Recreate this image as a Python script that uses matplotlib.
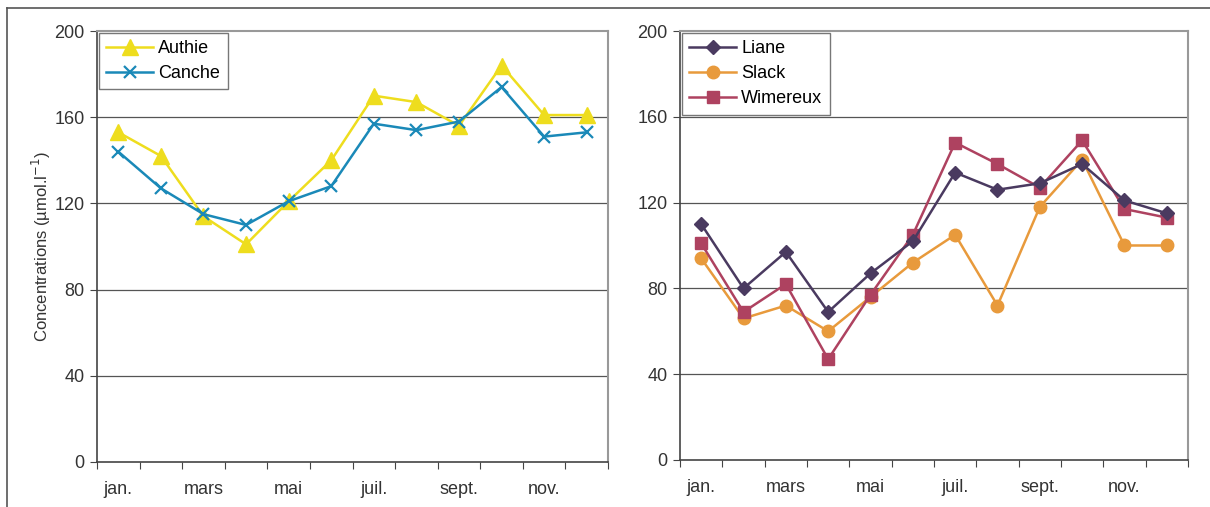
import matplotlib.pyplot as plt
from matplotlib.lines import Line2D

plt.rcParams['font.family'] = ['Liberation Sans', 'DejaVu Sans']

months = ["jan.", "févr.", "mars", "avr.", "mai", "juin",
          "juil.", "août", "sept.", "oct.", "nov.", "déc."]
authie = [153, 142, 114, 101, 121, 140, 170, 167, 156, 184, 161, 161]
canche = [144, 127, 115, 110, 121, 128, 157, 154, 158, 174, 151, 153]
liane = [110, 80, 97, 69, 87, 102, 134, 126, 129, 138, 121, 115]
slack = [94, 66, 72, 60, 76, 92, 105, 72, 118, 140, 100, 100]
wimereux = [101, 69, 82, 47, 77, 105, 148, 138, 127, 149, 117, 113]
yticks = [0, 40, 80, 120, 160, 200]

fig = plt.figure(figsize=(12.1, 5.07), dpi=100)
ax1 = fig.add_axes([0.0802, 0.0888, 0.4223, 0.850])
ax2 = fig.add_axes([0.5620, 0.0928, 0.4198, 0.846])

# outer frame lines of the original figure
fig.add_artist(Line2D([0.006, 1.0], [0.984, 0.984], color='#555555', lw=1.2))
fig.add_artist(Line2D([0.006, 0.006], [0.0, 0.984], color='#555555', lw=1.2))


def style(ax):
    x = list(range(len(months)))
    ax.set_xlim(-0.5, len(months) - 0.5)
    ax.set_ylim(0, 200)
    ax.set_yticks(yticks)
    ax.set_yticklabels([str(v) for v in yticks], fontsize=13, color='#333333')
    ax.set_xticks([i - 0.5 for i in range(len(months) + 1)])
    ax.set_xticklabels([])
    ax.set_xticks(x[::2], minor=True)
    ax.set_xticklabels(months[::2], minor=True, fontsize=13, color='#333333')
    ax.tick_params(axis='x', which='minor', length=0, pad=14)
    ax.tick_params(axis='x', which='major', length=5, color='#444444', direction='out')
    ax.tick_params(axis='y', length=5, color='#444444', direction='out', pad=4)
    for y in yticks[1:-1]:
        ax.axhline(y, color='#555555', lw=0.9, zorder=1)
    for s in ['top', 'right']:
        ax.spines[s].set_color('#999999')
        ax.spines[s].set_linewidth(1.5)
    for s in ['left', 'bottom']:
        ax.spines[s].set_color('#444444')
        ax.spines[s].set_linewidth(1.2)
    return x


def legend(ax):
    leg = ax.legend(loc='upper left', fontsize=13, frameon=True, fancybox=False,
                    borderaxespad=0.1, handlelength=2.6, handletextpad=0.3,
                    labelspacing=0.45, borderpad=0.4)
    leg.get_frame().set_edgecolor('#555555')
    leg.get_frame().set_linewidth(1.0)


x = style(ax1)
ax1.plot(x, authie, color='#EEDD1E', lw=1.8, marker='^', markersize=11, label='Authie', zorder=3)
ax1.plot(x, canche, color='#1A89B8', lw=1.8, marker='x', markersize=9, mew=1.6, label='Canche', zorder=4)
ax1.set_ylabel(r'Concentrations (µmol.l$^{-1}$)', fontsize=12, color='#333333', labelpad=1)
legend(ax1)

x = style(ax2)
ax2.plot(x, liane, color='#4A3A60', lw=1.8, marker='D', markersize=7, label='Liane', zorder=4)
ax2.plot(x, slack, color='#E89A3C', lw=1.8, marker='o', markersize=9, label='Slack', zorder=3)
ax2.plot(x, wimereux, color='#AE4260', lw=1.8, marker='s', markersize=9, label='Wimereux', zorder=3)
legend(ax2)

fig.savefig('out.png', dpi=100)
